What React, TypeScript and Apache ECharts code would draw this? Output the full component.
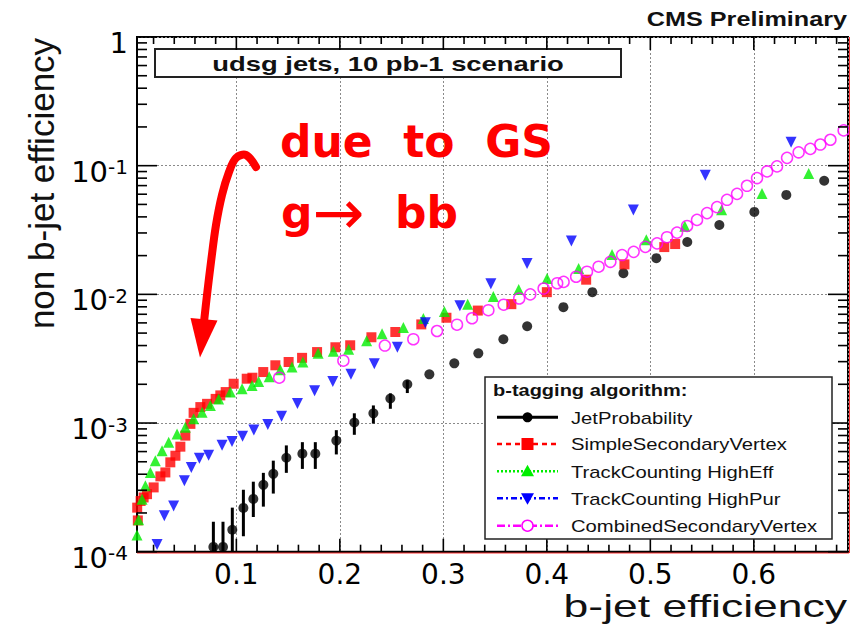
import React, { useEffect, useRef } from "react";
import * as echarts from "echarts";

// JetProbability (black)
const jpEff = [0.0778, 0.0871, 0.0961, 0.1068, 0.1164, 0.1261, 0.1357, 0.1483, 0.1638, 0.1763, 0.1966, 0.214, 0.2324, 0.2488, 0.2652, 0.2865, 0.3106, 0.3338, 0.358, 0.381, 0.416, 0.444, 0.474, 0.5058, 0.5357, 0.5667, 0.6005, 0.6314, 0.668];
const jpMis = [1.09e-4, 1.09e-4, 1.48e-4, 2.19e-4, 2.57e-4, 3.31e-4, 4.03e-4, 5.37e-4, 5.78e-4, 5.78e-4, 7.3e-4, 1.01e-3, 1.19e-3, 1.55e-3, 2.0e-3, 2.39e-3, 2.91e-3, 3.48e-3, 4.48e-3, 5.65e-3, 7.95e-3, 1.04e-2, 1.46e-2, 1.91e-2, 2.55e-2, 3.46e-2, 4.37e-2, 5.93e-2, 7.63e-2];
const jpErrLow = [1e-4, 1e-4, 1e-4, 1.32e-4, 1.86e-4, 2.24e-4, 2.83e-4, 4.1e-4, 4.4e-4, 4.4e-4, 5.7e-4, 8.1e-4, 9.9e-4, 1.29e-3, 1.71e-3];
const jpErrHigh = [1.71e-4, 1.71e-4, 2.2e-4, 3.03e-4, 3.5e-4, 4.1e-4, 5.1e-4, 6.7e-4, 7.1e-4, 7.1e-4, 8.8e-4, 1.19e-3, 1.37e-3, 1.7e-3, 2.15e-3];

// SimpleSecondaryVertex (red)
const ssvEff = [0.0042, 0.0048, 0.0075, 0.0104, 0.0137, 0.0201, 0.0266, 0.0314, 0.0362, 0.0411, 0.0459, 0.0507, 0.0556, 0.0587, 0.0652, 0.0717, 0.080, 0.0845, 0.0897, 0.0974, 0.110, 0.1155, 0.126, 0.1377, 0.1505, 0.1635, 0.178, 0.1957, 0.210, 0.2305, 0.2536, 0.2787, 0.303, 0.3333, 0.3657, 0.400, 0.438, 0.475, 0.5135, 0.524];
const ssvMis = [2.2e-4, 1.75e-4, 2.48e-4, 2.64e-4, 2.8e-4, 3.16e-4, 3.85e-4, 4.13e-4, 4.95e-4, 5.57e-4, 6.55e-4, 7.98e-4, 9.85e-4, 1.2e-3, 1.33e-3, 1.41e-3, 1.54e-3, 1.64e-3, 1.74e-3, 2.02e-3, 2.21e-3, 2.25e-3, 2.49e-3, 2.81e-3, 2.98e-3, 3.21e-3, 3.56e-3, 3.88e-3, 4.02e-3, 4.64e-3, 5.1e-3, 5.84e-3, 6.58e-3, 7.48e-3, 8.39e-3, 1.04e-2, 1.3e-2, 1.71e-2, 2.33e-2, 2.46e-2];

// TrackCounting HighEff (green)
const tcheEff = [0.004, 0.0056, 0.0089, 0.0121, 0.0169, 0.0217, 0.0282, 0.0346, 0.0427, 0.0507, 0.0587, 0.0669, 0.0749, 0.0829, 0.0942, 0.1055, 0.1152, 0.1215, 0.1317, 0.1425, 0.1538, 0.1643, 0.179, 0.1937, 0.2085, 0.2259, 0.2408, 0.2614, 0.2807, 0.301, 0.3235, 0.3483, 0.3728, 0.4002, 0.4307, 0.463, 0.4961, 0.5333, 0.5689, 0.6079, 0.653];
const tcheMis = [1.35e-4, 1.77e-4, 2.56e-4, 3.25e-4, 4.13e-4, 5.1e-4, 6.1e-4, 7.08e-4, 8.23e-4, 9.27e-4, 1.08e-3, 1.21e-3, 1.37e-3, 1.54e-3, 1.74e-3, 1.85e-3, 1.96e-3, 2.1e-3, 2.29e-3, 2.6e-3, 2.72e-3, 2.98e-3, 3.48e-3, 3.61e-3, 3.74e-3, 4.36e-3, 4.93e-3, 5.52e-3, 6.5e-3, 7.37e-3, 8.39e-3, 9.62e-3, 1.09e-2, 1.33e-2, 1.59e-2, 2.04e-2, 2.66e-2, 3.38e-2, 4.54e-2, 6.07e-2, 8.71e-2];

// TrackCounting HighPur (blue)
const tchpEff = [0.0234, 0.0304, 0.0394, 0.0498, 0.0565, 0.0643, 0.0732, 0.0862, 0.0958, 0.106, 0.1169, 0.1304, 0.1437, 0.159, 0.1756, 0.1932, 0.2107, 0.2333, 0.2556, 0.2826, 0.316, 0.3459, 0.3809, 0.4237, 0.4836, 0.5531, 0.636];
const tchpMis = [1.14e-4, 1.9e-4, 2.27e-4, 3.56e-4, 4.52e-4, 5.33e-4, 5.62e-4, 6.73e-4, 7.17e-4, 7.91e-4, 8.81e-4, 9.72e-4, 1.13e-3, 1.42e-3, 1.78e-3, 2.1e-3, 2.39e-3, 2.89e-3, 3.88e-3, 6.02e-3, 8.17e-3, 1.21e-2, 1.74e-2, 2.6e-2, 4.53e-2, 8.43e-2, 1.52e-1];

// CombinedSecondaryVertex (magenta)
const csvEff = [0.1414, 0.2034, 0.2435, 0.271, 0.2939, 0.3132, 0.3277, 0.3435, 0.3583, 0.3733, 0.384, 0.3969, 0.41, 0.4162, 0.4283, 0.4388, 0.45, 0.4614, 0.4727, 0.4839, 0.4952, 0.5065, 0.5161, 0.5258, 0.5355, 0.5451, 0.5548, 0.5645, 0.5741, 0.5838, 0.5934, 0.6031, 0.6128, 0.6224, 0.6321, 0.6433, 0.6546, 0.6643, 0.674, 0.6868];
const csvMis = [2.25e-3, 3.05e-3, 4.0e-3, 4.48e-3, 5.19e-3, 5.81e-3, 6.52e-3, 7.53e-3, 8.31e-3, 9.29e-3, 1.0e-2, 1.11e-2, 1.22e-2, 1.25e-2, 1.37e-2, 1.5e-2, 1.64e-2, 1.79e-2, 2.02e-2, 2.14e-2, 2.34e-2, 2.49e-2, 2.78e-2, 3.02e-2, 3.4e-2, 3.79e-2, 4.28e-2, 4.76e-2, 5.43e-2, 6.04e-2, 6.98e-2, 8.01e-2, 9.02e-2, 9.87e-2, 1.15e-1, 1.27e-1, 1.35e-1, 1.46e-1, 1.59e-1, 1.88e-1];

// Axis ticks
const xMajor = [0.1, 0.2, 0.3, 0.4, 0.5, 0.6];
const xMinor = [0.02, 0.04, 0.06, 0.08, 0.12, 0.14, 0.16, 0.18, 0.22, 0.24, 0.26, 0.28, 0.32, 0.34, 0.36, 0.38, 0.42, 0.44, 0.46, 0.48, 0.52, 0.54, 0.56, 0.58, 0.62, 0.64, 0.66, 0.68];
const yMajor = [1e-4, 1e-3, 1e-2, 1e-1, 1];
const yMinorMult = [2, 3, 4, 5, 6, 7, 8, 9];

const legendNames = ["JetProbability", "SimpleSecondaryVertex", "TrackCounting HighEff", "TrackCounting HighPur", "CombinedSecondaryVertex"];

const X_MIN = 0.004;
const X_MAX = 0.691;
const Y_MIN = 1e-4;
const Y_MAX = 1;

const zip = (a: number[], b: number[]) => a.map((v, i) => [v, b[i]]);

export default function App() {
  const ref = useRef<HTMLDivElement>(null);
  useEffect(() => {
    if (!ref.current) return;
    const chart = echarts.init(ref.current, null, { renderer: "svg" });

    const yMinor: number[] = [];
    yMajor.slice(0, -1).forEach((d) => yMinorMult.forEach((m) => yMinor.push(m * d)));

    const gridLine = { show: true, lineStyle: { color: "#8a8a8a", type: [2, 2] as any, width: 1 } };

    const entryY = [417.3, 444, 471.3, 498.3, 525.7];
    const lx0 = 497, lx1 = 558, mx = 527.5;
    const legendLines: any[] = [
      { color: "#000", dash: "solid", w: 3 },
      { color: "#ff0000", dash: [5, 4], w: 2.5 },
      { color: "#00ee00", dash: [2, 2], w: 2.5 },
      { color: "#0000ff", dash: [6, 3, 2, 3], w: 2.5 },
      { color: "#ff00ff", dash: [8, 3, 2, 3], w: 2.5 },
    ];
    const legendGraphics: any[] = [
      { type: "rect", z: 100, shape: { x: 485, y: 377, width: 347, height: 162 }, style: { fill: "#fff", stroke: "#222", lineWidth: 1.5 } },
      { type: "text", z: 101, x: 493, y: 391, scaleX: 1.25, style: { text: "b-tagging algorithm:", fontSize: 16, fontWeight: "bold", fontFamily: "Liberation Sans", fill: "#111", align: "left", verticalAlign: "middle" } },
    ];
    entryY.forEach((y, i) => {
      const l = legendLines[i];
      legendGraphics.push({ type: "line", z: 101, shape: { x1: lx0, y1: y, x2: lx1, y2: y }, style: { stroke: l.color, lineWidth: l.w, lineDash: l.dash } });
      legendGraphics.push({ type: "text", z: 101, x: 571, y: y + 0.5, scaleX: 1.19, style: { text: legendNames[i], fontSize: 17, fontFamily: "Liberation Sans", fill: "#111", align: "left", verticalAlign: "middle" } });
    });
    legendGraphics.push({ type: "circle", z: 102, shape: { cx: mx, cy: entryY[0], r: 5 }, style: { fill: "#000" } });
    legendGraphics.push({ type: "rect", z: 102, shape: { x: mx - 6, y: entryY[1] - 6, width: 12, height: 12 }, style: { fill: "#ff0000" } });
    legendGraphics.push({ type: "polygon", z: 102, shape: { points: [[mx, entryY[2] - 6.5], [mx + 6.5, entryY[2] + 5], [mx - 6.5, entryY[2] + 5]] }, style: { fill: "#00ee00" } });
    legendGraphics.push({ type: "polygon", z: 102, shape: { points: [[mx - 6.5, entryY[3] - 5], [mx + 6.5, entryY[3] - 5], [mx, entryY[3] + 6.5]] }, style: { fill: "#0000ff" } });
    legendGraphics.push({ type: "circle", z: 102, shape: { cx: mx, cy: entryY[4], r: 5.5 }, style: { fill: "#fff", stroke: "#ff00ff", lineWidth: 1.5 } });

    const staticGraphics: any[] = [
      { type: "line", z: 50, shape: { x1: 137, y1: 553, x2: 849, y2: 553 }, style: { stroke: "#ff3333", lineWidth: 1 } },
      { type: "line", z: 50, shape: { x1: 849.5, y1: 37, x2: 849.5, y2: 553 }, style: { stroke: "#ff3333", lineWidth: 1 } },
      { type: "text", z: 60, x: 847, y: 18.5, scaleX: 1.2, style: { text: "CMS Preliminary", fontSize: 21, fontWeight: "bold", fontFamily: "Liberation Sans", fill: "#111", align: "right", verticalAlign: "middle" } },
      { type: "rect", z: 60, shape: { x: 155, y: 49, width: 466, height: 28 }, style: { fill: "#fff", stroke: "#222", lineWidth: 2 } },
      { type: "text", z: 61, x: 388, y: 63.5, scaleX: 1.37, style: { text: "udsg jets, 10 pb-1 scenario", fontSize: 20, fontWeight: "bold", fontFamily: "Liberation Sans", fill: "#111", align: "center", verticalAlign: "middle" } },
      { type: "text", z: 60, x: 847, y: 606, scaleX: 1.39, style: { text: "b-jet efficiency", fontSize: 32, fontFamily: "Liberation Sans", fill: "#111", align: "right", verticalAlign: "middle" } },
      { type: "text", z: 60, x: 41, y: 183.5, rotation: Math.PI / 2, style: { text: "non b-jet efficiency", fontSize: 35, fontFamily: "Liberation Sans", fill: "#111", align: "center", verticalAlign: "middle" } },
      { type: "text", z: 70, x: 280, y: 141, style: { text: "due  to  GS", fontSize: 44, fontWeight: "bold", fontFamily: "DejaVu Sans", fill: "#ff0000", align: "left", verticalAlign: "middle" } },
      {
        type: "text", z: 70, x: 281, y: 212,
        style: {
          text: "{t|g}{a|→}{t|  bb}", align: "left", verticalAlign: "middle",
          rich: {
            t: { fontSize: 44, fontWeight: "bold", fontFamily: "DejaVu Sans", fill: "#ff0000", color: "#ff0000" },
            a: { fontSize: 62, fontFamily: "DejaVu Sans", fill: "#ff0000", color: "#ff0000" },
          },
        },
      },
      { type: "polyline", z: 70, shape: { points: [[256, 167], [246, 155], [236, 158], [229, 172], [222, 195], [216, 225], [211, 262], [207, 295], [204, 322]], smooth: 0.35 }, style: { stroke: "#ff0000", lineWidth: 8, fill: null, lineCap: "round" } },
      { type: "polygon", z: 70, shape: { points: [[190.5, 318], [217.5, 320.5], [200, 357.5]] }, style: { fill: "#ff0000" } },
      ...legendGraphics,
    ];

    const option: any = {
      animation: false,
      backgroundColor: "#fff",
      grid: { left: 137, top: 37, width: 711, height: 514.7, show: true, borderColor: "#000", borderWidth: 2, backgroundColor: "rgba(0,0,0,0)" },
      xAxis: {
        type: "value", min: X_MIN, max: X_MAX, splitNumber: 7, position: "bottom",
        axisLine: { show: true, onZero: false, lineStyle: { color: "#000", width: 2 } },
        axisTick: { show: false },
        axisLabel: { show: true, customValues: xMajor, margin: 9, fontSize: 28, fontFamily: "DejaVu Sans", color: "#000", formatter: (v: number) => v.toFixed(1) },
        splitLine: gridLine,
      },
      yAxis: {
        type: "log", logBase: 10, min: Y_MIN, max: Y_MAX, splitNumber: 4, position: "left",
        axisLine: { show: true, onZero: false, lineStyle: { color: "#000", width: 2 } },
        axisTick: { show: false },
        axisLabel: {
          show: true, margin: 9, padding: [12, 0, 0, 0],
          formatter: (v: number) => {
            const e = Math.round(Math.log10(v));
            return e === 0 ? "{b|1}" : "{b|10}{s|" + e + "}";
          },
          rich: {
            b: { fontSize: 29, fontFamily: "DejaVu Sans", color: "#000" },
            s: { fontSize: 20, fontFamily: "DejaVu Sans", color: "#000", verticalAlign: "top" },
          },
        },
        splitLine: gridLine,
      },
      series: [
        {
          type: "custom", name: "jpErr", clip: true, z: 2,
          renderItem: (params: any, api: any) => {
            const p1 = api.coord([api.value(0), api.value(1)]);
            const p2 = api.coord([api.value(0), api.value(2)]);
            return { type: "line", shape: { x1: p1[0], y1: p1[1], x2: p2[0], y2: p2[1] }, style: { stroke: "#000", lineWidth: 3 } };
          },
          data: jpErrLow.map((lo, i) => [jpEff[i], lo, jpErrHigh[i]]),
          encode: { x: 0, y: [1, 2] },
        },
        { type: "scatter", name: legendNames[0], data: zip(jpEff, jpMis), symbol: "circle", symbolSize: 10, itemStyle: { color: "#000" }, z: 3 },
        { type: "scatter", name: legendNames[1], data: zip(ssvEff, ssvMis), symbol: "rect", symbolSize: 10, itemStyle: { color: "#ff0000" }, z: 3 },
        { type: "scatter", name: legendNames[2], data: zip(tcheEff, tcheMis), symbol: "triangle", symbolSize: 11, itemStyle: { color: "#00ee00" }, z: 3 },
        { type: "scatter", name: legendNames[3], data: zip(tchpEff, tchpMis), symbol: "triangle", symbolRotate: 180, symbolSize: 11, itemStyle: { color: "#0000ff" }, z: 3 },
        { type: "scatter", name: legendNames[4], data: zip(csvEff, csvMis), symbol: "circle", symbolSize: 11, itemStyle: { color: "rgba(0,0,0,0)", borderColor: "#ff00ff", borderWidth: 1.5 }, z: 4 },
      ],
      graphic: staticGraphics,
    };
    chart.setOption(option);

    // Axis ticks: positions come from the chart's own scales via convertToPixel
    const toPx = (x: number, y: number) => chart.convertToPixel({ xAxisIndex: 0, yAxisIndex: 0 }, [x, y]) as number[];
    const tick = (p: number[], dx: number, dy: number) => ({
      type: "line", z: 80, shape: { x1: p[0], y1: p[1], x2: p[0] + dx, y2: p[1] + dy }, style: { stroke: "#000", lineWidth: 1.6 },
    });
    const ticks: any[] = [];
    xMajor.forEach((v) => { ticks.push(tick(toPx(v, Y_MIN), 0, -13)); ticks.push(tick(toPx(v, Y_MAX), 0, 13)); });
    xMinor.forEach((v) => { ticks.push(tick(toPx(v, Y_MIN), 0, -7)); ticks.push(tick(toPx(v, Y_MAX), 0, 7)); });
    yMajor.forEach((v) => { ticks.push(tick(toPx(X_MIN, v), 20, 0)); ticks.push(tick(toPx(X_MAX, v), -20, 0)); });
    yMinor.forEach((v) => { ticks.push(tick(toPx(X_MIN, v), 10, 0)); ticks.push(tick(toPx(X_MAX, v), -10, 0)); });
    chart.setOption({ graphic: [...staticGraphics, ...ticks] });

    return () => chart.dispose();
  }, []);
  return <div ref={ref} style={{ position: "fixed", left: 0, top: 0, width: 859, height: 627, background: "#fff" }} />;
}
